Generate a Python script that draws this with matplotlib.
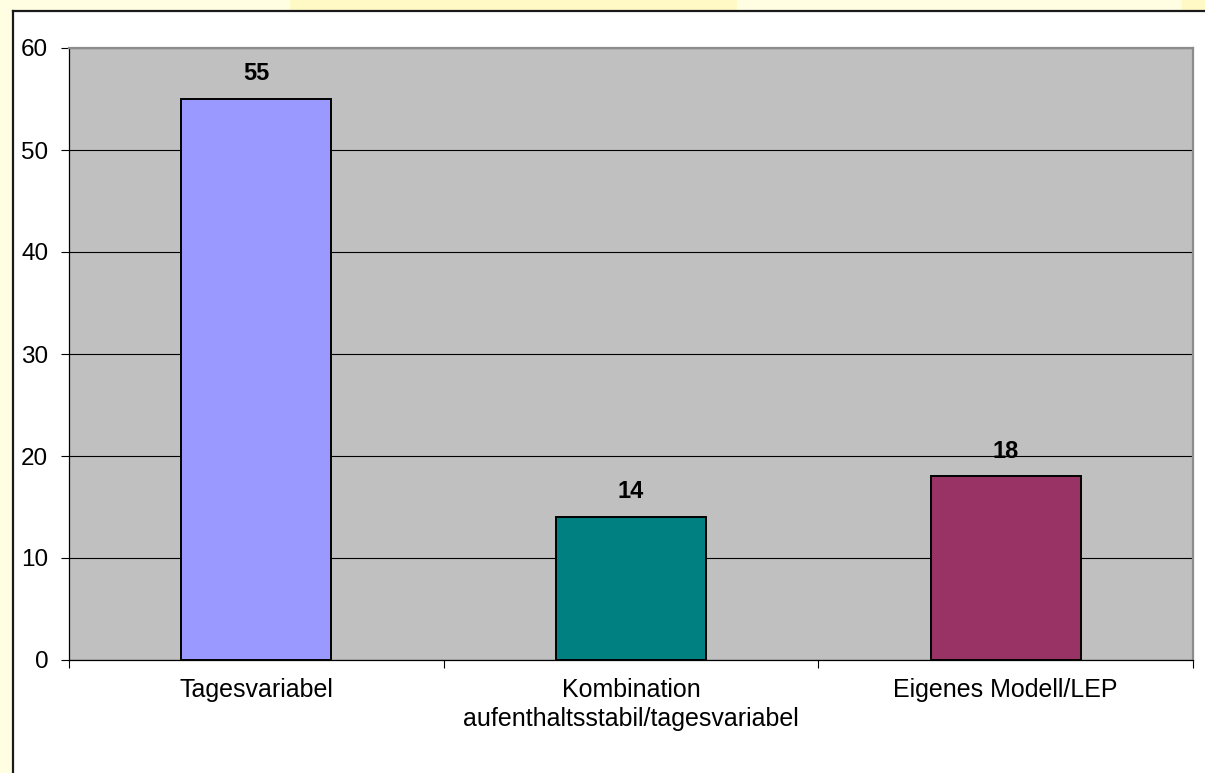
import matplotlib.pyplot as plt
from matplotlib.patches import Rectangle
import numpy as np

plt.rcParams['font.family'] = ['Liberation Sans', 'DejaVu Sans']

categories = ['Tagesvariabel', 'Kombination\naufenthaltsstabil/tagesvariabel', 'Eigenes Modell/LEP']
values = [55, 14, 18]
colors = ['#9999FF', '#008080', '#993366']
yticks = [0, 10, 20, 30, 40, 50, 60]

W, H = 1205, 773


def fx(px):
    return px / W


def fy(py):
    return 1 - py / H


fig = plt.figure(figsize=(W / 100, H / 100), dpi=100, facecolor='#FFFDE2')

# background patches (slide look), kept behind the axes
fig.add_artist(Rectangle((fx(290), fy(10)), fx(737) - fx(290), 10 / H, zorder=-10,
                         transform=fig.transFigure, facecolor='#FFF9C6', edgecolor='none'))
fig.add_artist(Rectangle((fx(1182), fy(10)), 1 - fx(1182), 10 / H, zorder=-10,
                         transform=fig.transFigure, facecolor='#FFF9C6', edgecolor='none'))
fig.add_artist(Rectangle((fx(12), 0), 1 - fx(12), fy(10), transform=fig.transFigure,
                         facecolor='white', edgecolor='none', zorder=-10))
fig.add_artist(plt.Line2D([fx(12.5), fx(12.5)], [0, fy(10.5)], transform=fig.transFigure,
                          color='#1a1a1a', lw=1.6, zorder=-9))
fig.add_artist(plt.Line2D([fx(12.5), 1], [fy(10.5), fy(10.5)], transform=fig.transFigure,
                          color='#1a1a1a', lw=1.6, zorder=-9))

ax = fig.add_axes([fx(69), fy(660), fx(1193) - fx(69), fy(48) - fy(660)])
ax.set_facecolor('#C0C0C0')

x = np.arange(len(categories))
bars = ax.bar(x, values, width=0.4, color=colors, edgecolor='black', linewidth=1.4, zorder=3)
for b, v in zip(bars, values):
    ax.annotate(str(v), (b.get_x() + b.get_width() / 2, v), xytext=(0, 10),
                textcoords='offset points', ha='center', va='bottom',
                fontsize=17, fontweight='bold')

ax.set_xlim(-0.5, 2.5)
ax.set_ylim(0, 60)
ax.set_yticks(yticks)
ax.yaxis.grid(True, color='black', linewidth=0.8, zorder=1)
ax.set_axisbelow(True)

ax.set_xticks(x)
ax.set_xticklabels(categories, fontsize=18, linespacing=1.25)
ax.set_xticks([-0.5, 0.5, 1.5, 2.5], minor=True)
ax.tick_params(axis='x', which='major', length=0, pad=13)
ax.tick_params(axis='x', which='minor', length=6, width=0.8, direction='out')
ax.tick_params(axis='y', length=6, width=0.8, direction='out', pad=9, labelsize=17.5)

for s in ['left', 'bottom']:
    ax.spines[s].set_color('black')
    ax.spines[s].set_linewidth(0.9)
for s in ['top', 'right']:
    ax.spines[s].set_color('#8c8c8c')
    ax.spines[s].set_linewidth(1.6)

fig.savefig('out.png', dpi=100, facecolor=fig.get_facecolor())
